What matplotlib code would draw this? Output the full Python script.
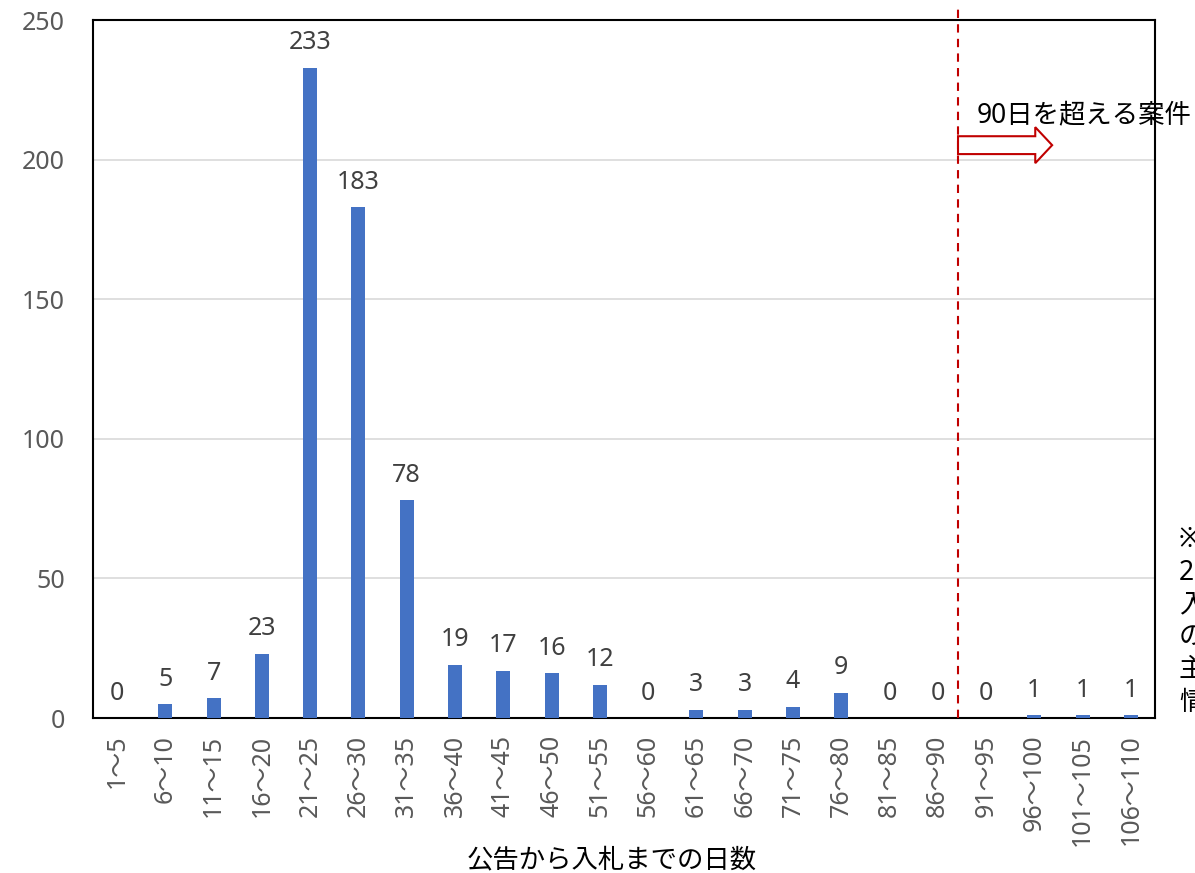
import numpy as np
import matplotlib.pyplot as plt
from matplotlib.patches import FancyArrow

plt.rcParams['font.family'] = ['Noto Sans', 'Noto Sans CJK JP', 'DejaVu Sans']

# data
categories = ["1～5", "6～10", "11～15", "16～20", "21～25", "26～30", "31～35",
              "36～40", "41～45", "46～50", "51～55", "56～60", "61～65", "66～70",
              "71～75", "76～80", "81～85", "86～90", "91～95", "96～100",
              "101～105", "106～110"]
counts = [0, 5, 7, 23, 233, 183, 78, 19, 17, 16, 12, 0, 3, 3, 4, 9, 0, 0, 0, 1, 1, 1]
y_ticks = [0, 50, 100, 150, 200, 250]
note_lines = ["※", "2", "入", "の", "主", "情"]

BAR_COLOR = "#4472C4"
GREY = "#595959"

fig = plt.figure(figsize=(11.95, 8.73), dpi=100)
ax = fig.add_axes([0.0778, 0.1775, 0.8887, 0.7995])

x = np.arange(len(categories))
ax.bar(x, counts, width=0.29, color=BAR_COLOR, zorder=3)

for xi, v in zip(x, counts):
    ax.annotate(str(v), (xi, v), xytext=(0, 9), textcoords="offset points",
                ha="center", va="bottom", fontsize=18, color="#404040")

ax.set_xlim(-0.5, len(categories) - 0.5)
ax.set_ylim(0, 250)
ax.set_yticks(y_ticks)
ax.set_xticks(x)
ax.set_xticklabels(categories, rotation=90, fontsize=18, color=GREY)
ax.tick_params(axis="y", labelsize=18, labelcolor=GREY, length=0, pad=20)
ax.tick_params(axis="x", length=0, pad=12)
ax.yaxis.grid(True, color="#D9D9D9", linewidth=1.2, zorder=0)
ax.set_axisbelow(True)
for s in ax.spines.values():
    s.set_color("black")
    s.set_linewidth(1.5)

ax.set_xlabel("公告から入札までの日数", fontsize=19, va="center")
ax.xaxis.set_label_coords(0.4887, -0.2034)

# dashed separator beyond 90 days
sep = 17.42
ax.plot([sep, sep], [0, 255.5], color="#C00000", linestyle=(0, (4, 3)),
        linewidth=1.5, clip_on=False, zorder=4)

arrow = FancyArrow(sep, 205.2, 1.95, 0, width=6.4, head_width=12.9,
                   head_length=0.35, length_includes_head=True,
                   facecolor="white", edgecolor="#C00000", linewidth=1.5,
                   zorder=5)
ax.add_patch(arrow)
ax.text(17.81, 216, "90日を超える案件", fontsize=19, ha="left",
        va="center", color="black", zorder=6, clip_on=False)

# note text on the right (cut off by the figure edge)
for i, line in enumerate(note_lines):
    style = "italic" if line in ("入", "の") else "normal"
    fig.text(1179 / 1195, 1 - (540 + i * 32.5) / 873, line, fontsize=19,
             ha="left", va="center", style=style)

fig.savefig("out.png", dpi=100)
